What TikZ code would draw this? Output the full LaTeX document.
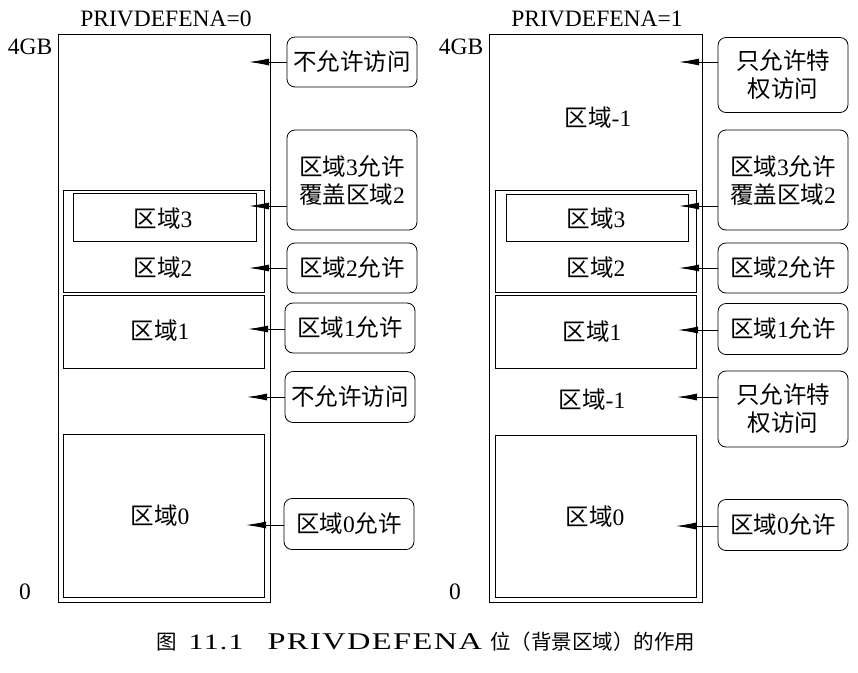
\documentclass[tikz,border=0pt]{standalone}
\usepackage{fontspec}
\setmainfont{Liberation Serif}
\newfontfamily\cjk{Noto Sans CJK SC}
\newfontfamily\capfont{Liberation Serif}[FakeStretch=1.35, LetterSpace=6]
\usepackage{tikz}
\usetikzlibrary{arrows.meta}
\newcommand\zh[1]{{\cjk #1}}

\tikzset{
  region/.style={line width=0.8pt},
  callout/.style={draw, line width=0.8pt, rounded corners=8pt, minimum width=130pt, align=center, inner sep=2pt},
  arr/.style={line width=0.8pt, -{Latex[length=20pt,width=7pt]}},
  lbl/.style={font=\fontsize{23.5}{28}\selectfont}
}

\begin{document}
\begin{tikzpicture}[x=1pt,y=-1pt, every node/.style={lbl}]
                        \useasboundingbox (0,0) rectangle (858,672);

                        % left: PRIVDEFENA=0
                        \node (H0) at (166, 19){PRIVDEFENA=0};
                        \node (TopL) at (30, 47){4GB};
                        \node (BotL) at (25, 592){0};

                        \draw[region] (58, 34) rectangle (270, 602);
                        \draw[region] (63, 190) rectangle (264, 292);
                        \draw[region] (73, 193) rectangle (256, 241);
                        \draw[region] (63, 295) rectangle (264, 368);
                        \draw[region] (63, 434) rectangle (264, 597);

                        \node (R3L) at (163, 219){\zh{区域}3};
                        \node (R2L) at (163, 268){\zh{区域}2};
                        \node (R1L) at (160, 331){\zh{区域}1};
                        \node (R0L) at (160, 516){\zh{区域}0};

                        \node[callout, minimum height=50pt] (N1) at (352, 62){\zh{不允许访问}};
                        \node[callout, minimum height=100pt] (N2) at (352, 180){\zh{区域}3\zh{允许}\\\zh{覆盖区域}2};
                        \node[callout, minimum height=50pt] (N3) at (352, 268){\zh{区域}2\zh{允许}};
                        \node[callout, minimum height=50pt] (N4) at (350, 328){\zh{区域}1\zh{允许}};
                        \node[callout, minimum height=51pt] (N5) at (350, 397){\zh{不允许访问}};
                        \node[callout, minimum height=51pt] (N6) at (349, 524){\zh{区域}0\zh{允许}};

                        \coordinate (T1) at (249, 62);
                        \coordinate (T2) at (249, 206);
                        \coordinate (T3) at (249, 268);
                        \coordinate (T4) at (248, 329);
                        \coordinate (T5) at (247, 397);
                        \coordinate (T6) at (246, 525);

                        \draw[arr] (N1.west |- T1) -- (T1);
                        \draw[arr] (N2.west |- T2) -- (T2);
                        \draw[arr] (N3.west |- T3) -- (T3);
                        \draw[arr] (N4.west |- T4) -- (T4);
                        \draw[arr] (N5.west |- T5) -- (T5);
                        \draw[arr] (N6.west |- T6) -- (T6);

                        % right: PRIVDEFENA=1
                        \node (H1) at (597, 19){PRIVDEFENA=1};
                        \node (TopR) at (461, 47){4GB};
                        \node (BotR) at (455, 592){0};

                        \draw[region] (489, 34) rectangle (702, 602);
                        \draw[region] (495, 190) rectangle (696, 292);
                        \draw[region] (506, 194) rectangle (688, 241);
                        \draw[region] (495, 295) rectangle (696, 368);
                        \draw[region] (495, 435) rectangle (696, 597);

                        \node (RbgA) at (598, 118){\zh{区域}-1};
                        \node (R3R) at (596, 219){\zh{区域}3};
                        \node (R2R) at (596, 268){\zh{区域}2};
                        \node (R1R) at (592, 332){\zh{区域}1};
                        \node (RbgB) at (592, 400){\zh{区域}-1};
                        \node (R0R) at (595, 517){\zh{区域}0};

                        \node[callout, minimum height=75pt] (M1) at (783, 75){\zh{只允许特}\\\zh{权访问}};
                        \node[callout, minimum height=100pt] (M2) at (783, 180){\zh{区域}3\zh{允许}\\\zh{覆盖区域}2};
                        \node[callout, minimum height=50pt] (M3) at (783, 268){\zh{区域}2\zh{允许}};
                        \node[callout, minimum height=51pt] (M4) at (783, 329){\zh{区域}1\zh{允许}};
                        \node[callout, minimum height=76pt] (M5) at (783, 409){\zh{只允许特}\\\zh{权访问}};
                        \node[callout, minimum height=51pt] (M6) at (783, 525){\zh{区域}0\zh{允许}};

                        \coordinate (S1) at (679, 62);
                        \coordinate (S2) at (679, 206);
                        \coordinate (S3) at (679, 268);
                        \coordinate (S4) at (678, 330);
                        \coordinate (S5) at (677, 397);
                        \coordinate (S6) at (676, 526);

                        \draw[arr] (M1.west |- S1) -- (S1);
                        \draw[arr] (M2.west |- S2) -- (S2);
                        \draw[arr] (M3.west |- S3) -- (S3);
                        \draw[arr] (M4.west |- S4) -- (S4);
                        \draw[arr] (M5.west |- S5) -- (S5);
                        \draw[arr] (M6.west |- S6) -- (S6);

                        \node[anchor=west, inner sep=0pt, font=\fontsize{20.5}{24}\selectfont] (Cap) at (156, 642){\zh{图}\hspace{12pt}{\fontsize{22}{24}\selectfont\capfont 11.1}\hspace{24pt}{\fontsize{24}{24}\selectfont\capfont PRIVDEFENA}\hspace{8pt}\zh{位（背景区域）的作用}};
                    \end{tikzpicture}
\end{document}
